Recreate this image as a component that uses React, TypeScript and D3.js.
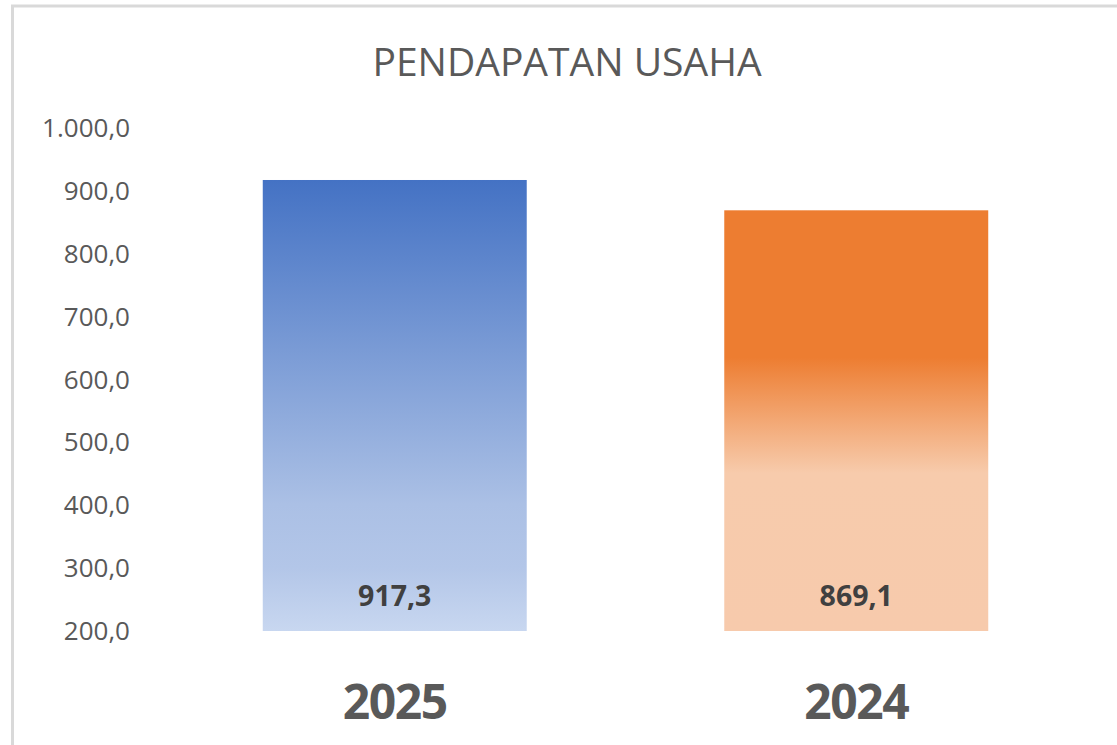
import React from "react";
import * as d3 from "d3";

const title = "PENDAPATAN USAHA";
const categories = ["2025", "2024"];
const values = [917.3, 869.1];
const tickValues = [200, 300, 400, 500, 600, 700, 800, 900, 1000];

const W = 1117;
const H = 745;

const locale = d3.formatLocale({ decimal: ",", thousands: ".", grouping: [3], currency: ["", ""] });
const fmtTick = locale.format(",.1f");
const fmtVal = locale.format(",.1f");

export default function App() {
  const y = d3.scaleLinear().domain([200, 1000]).range([631, 128]);
  const x = d3
    .scaleBand<string>()
    .domain(categories)
    .range([164, 1087])
    .paddingInner(0.428)
    .paddingOuter(0.214);

  const gradIds = ["gradBlue", "gradOrange"];
  const font = "'Open Sans', 'Noto Sans', sans-serif";

  return (
    <svg
      width={W}
      height={H}
      style={{ position: "fixed", left: 0, top: 0, background: "#ffffff" }}
    >
      <defs>
        <linearGradient id="gradBlue" x1="0" y1="0" x2="0" y2="1">
          <stop offset="0" stopColor="#4472C4" />
          <stop offset="0.72" stopColor="#ABC0E5" />
          <stop offset="0.86" stopColor="#B3C6E8" />
          <stop offset="1" stopColor="#C8D7F0" />
        </linearGradient>
        <linearGradient id="gradOrange" x1="0" y1="0" x2="0" y2="1">
          <stop offset="0" stopColor="#ED7D31" />
          <stop offset="0.35" stopColor="#ED7D31" />
          <stop offset="0.625" stopColor="#F7CBAC" />
          <stop offset="1" stopColor="#F7CAAC" />
        </linearGradient>
      </defs>
      <rect x={0} y={0} width={W} height={H} fill="#ffffff" />
      <rect
        x={12.5}
        y={6}
        width={1300}
        height={900}
        fill="none"
        stroke="#D9D9D9"
        strokeWidth={3}
      />
      <text
        x={567}
        y={76}
        textAnchor="middle"
        fontFamily={font}
        fontSize={39}
        fill="#595959"
      >
        {title}
      </text>
      <g>
        {tickValues.map((t) => (
          <text
            key={t}
            x={130}
            y={y(t)}
            dy="0.35em"
            textAnchor="end"
            fontFamily={font}
            fontSize={26}
            fill="#595959"
          >
            {fmtTick(t)}
          </text>
        ))}
      </g>
      <g>
        {categories.map((c, i) => {
          const bx = x(c) as number;
          const bw = x.bandwidth();
          return (
            <g key={c}>
              <rect
                x={bx}
                y={y(values[i])}
                width={bw}
                height={y(200) - y(values[i])}
                fill={`url(#${gradIds[i]})`}
              />
              <text
                x={bx + bw / 2}
                y={y(200) - 25}
                textAnchor="middle"
                fontFamily={font}
                fontWeight={700}
                fontSize={28.5}
                fill="#404040"
              >
                {fmtVal(values[i])}
              </text>
              <text
                x={bx + bw / 2}
                y={719}
                textAnchor="middle"
                fontFamily={font}
                fontWeight={700}
                fontSize={48}
                letterSpacing={-1.5}
                fill="#595959"
              >
                {c}
              </text>
            </g>
          );
        })}
      </g>
    </svg>
  );
}
